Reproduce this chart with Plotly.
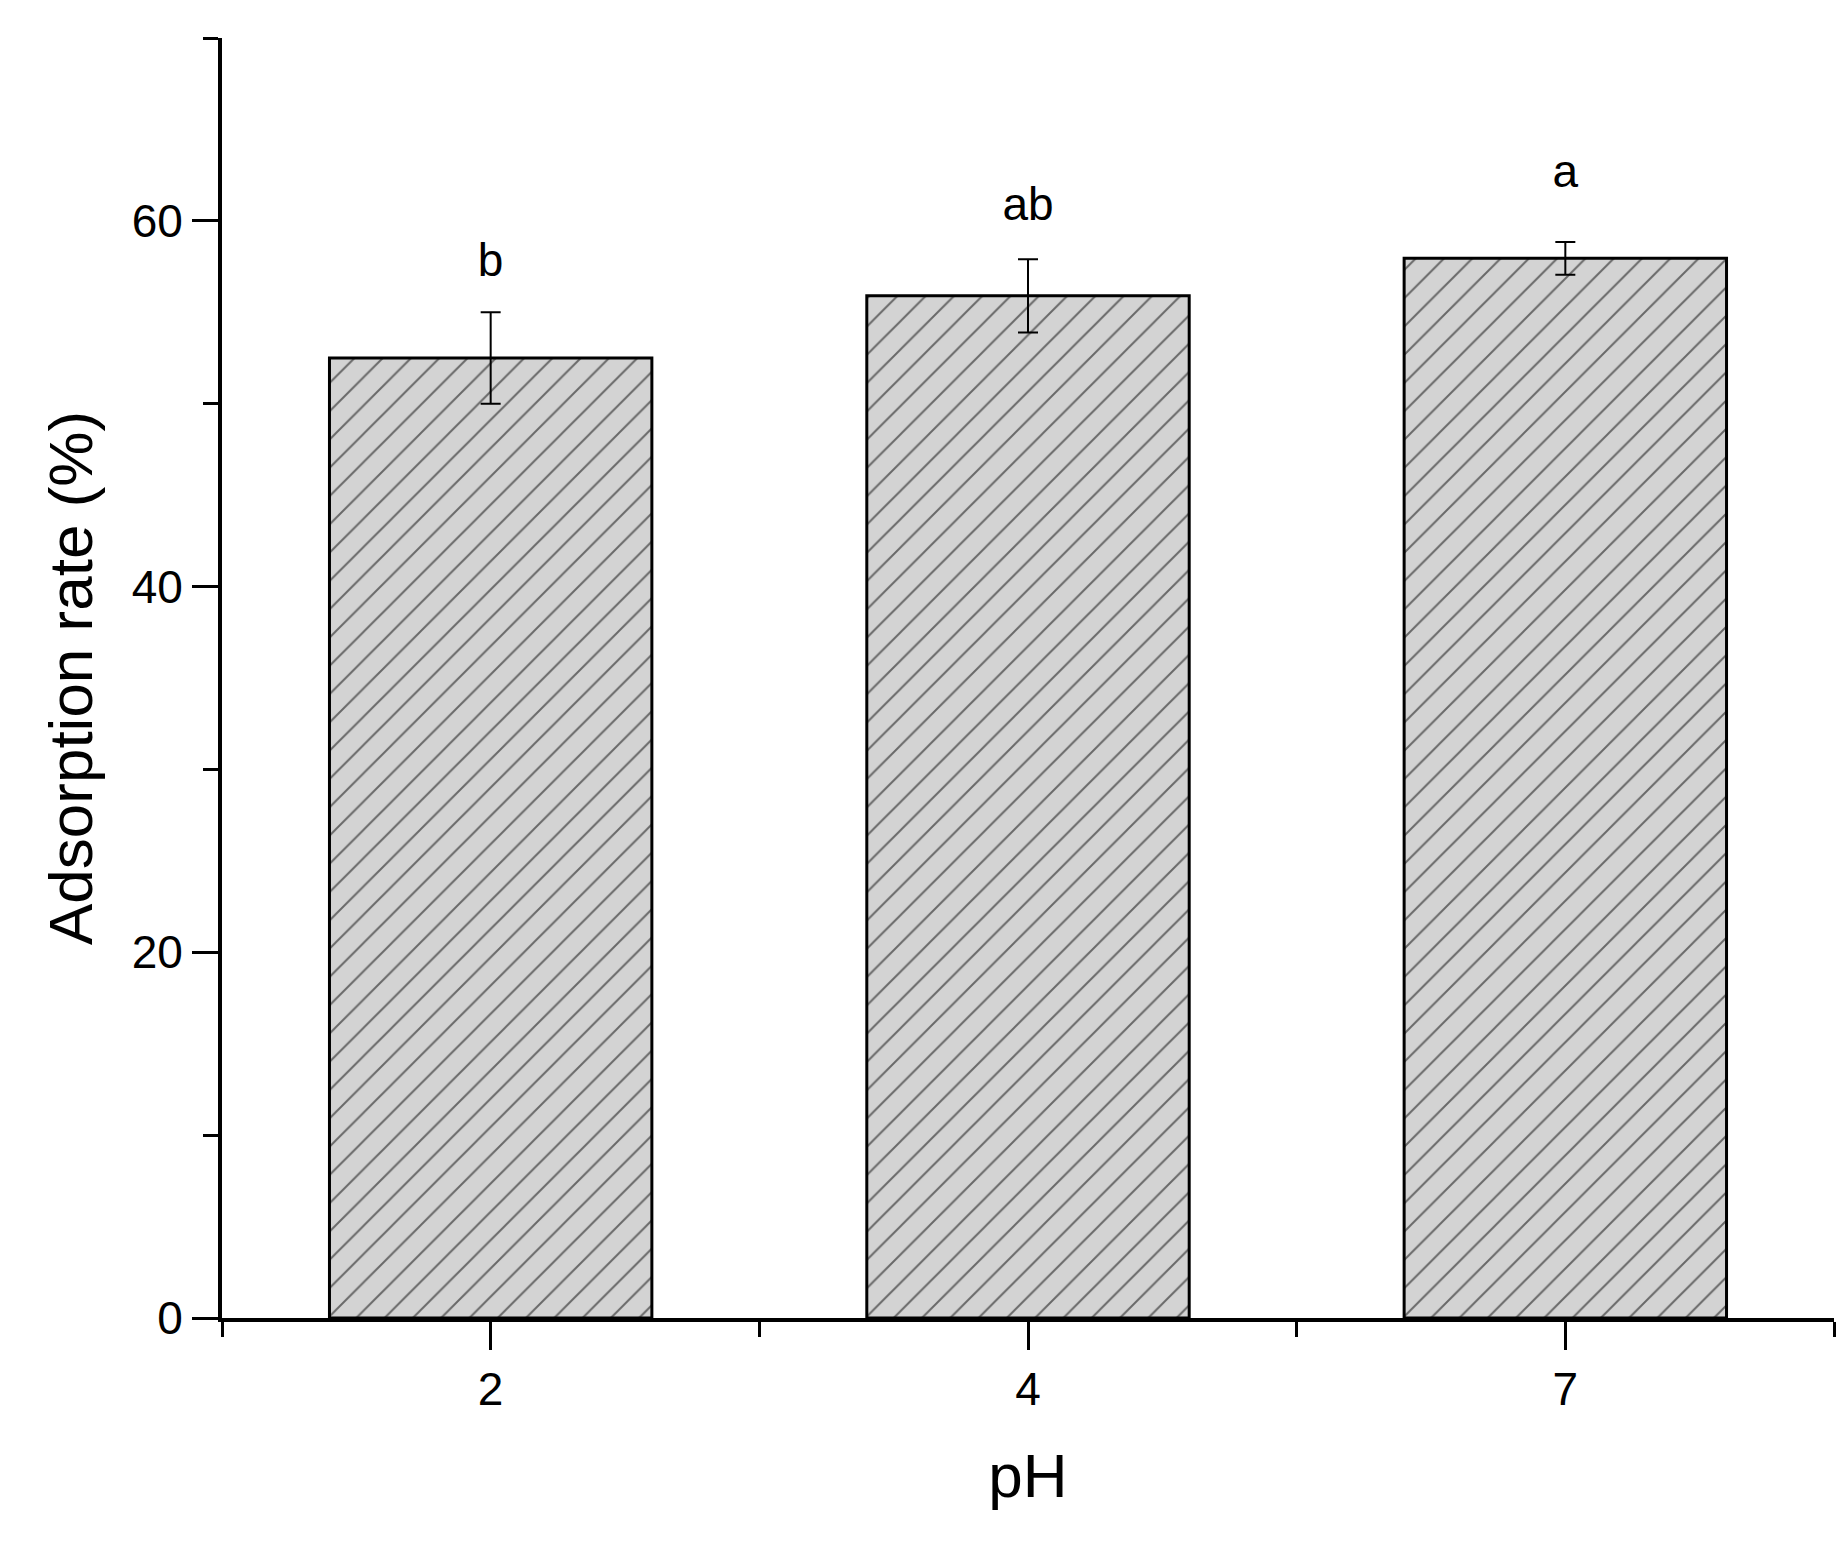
import plotly.graph_objects as go

categories = ["2", "4", "7"]
values = [52.5, 55.9, 57.95]
errors = [2.5, 2.0, 0.9]
letters = ["b", "ab", "a"]
letter_y = [57.6, 60.7, 62.5]

xpos = list(range(len(categories)))
fig = go.Figure()
fig.add_trace(go.Bar(
    x=xpos, y=values, width=0.6,
    marker=dict(color="#d3d3d3", line=dict(color="black", width=3),
                pattern=dict(shape="/", fgcolor="black", bgcolor="#d3d3d3", size=20, solidity=0.1)),
    error_y=dict(type="data", array=errors, color="black", thickness=2, width=10),
))
fig.add_trace(go.Scatter(x=xpos, y=letter_y, mode="text", text=letters,
                         textfont=dict(size=46, color="black", family="Liberation Sans")))
fig.update_layout(
    width=1846, height=1544, showlegend=False,
    plot_bgcolor="white", paper_bgcolor="white",
    margin=dict(l=214, r=20, t=30, b=234),
    font=dict(family="Liberation Sans", color="black"),
)
fig.update_xaxes(range=[-0.5, 2.5], tickvals=xpos, ticktext=categories,
                 showline=True, linecolor="black", linewidth=4, ticks="outside",
                 ticklen=28, tickwidth=3, tickcolor="black", showgrid=False, zeroline=False,
                 tickfont=dict(size=46),
                 minor=dict(tick0=0.5, dtick=1, ticks="outside", ticklen=15, tickwidth=3, tickcolor="black"),
                 title=dict(text="pH", font=dict(size=62), standoff=40))
fig.update_yaxes(range=[0, 70], tickvals=[0, 20, 40, 60],
                 showline=True, linecolor="black", linewidth=4, ticks="outside",
                 ticklen=26, tickwidth=3, tickcolor="black", showgrid=False, zeroline=False,
                 tickfont=dict(size=46),
                 minor=dict(tickvals=[10, 30, 50, 70], ticks="outside", ticklen=15, tickwidth=3, tickcolor="black"),
                 title=dict(text="Adsorption rate (%)", font=dict(size=62), standoff=20))
fig.write_html("out.html")
